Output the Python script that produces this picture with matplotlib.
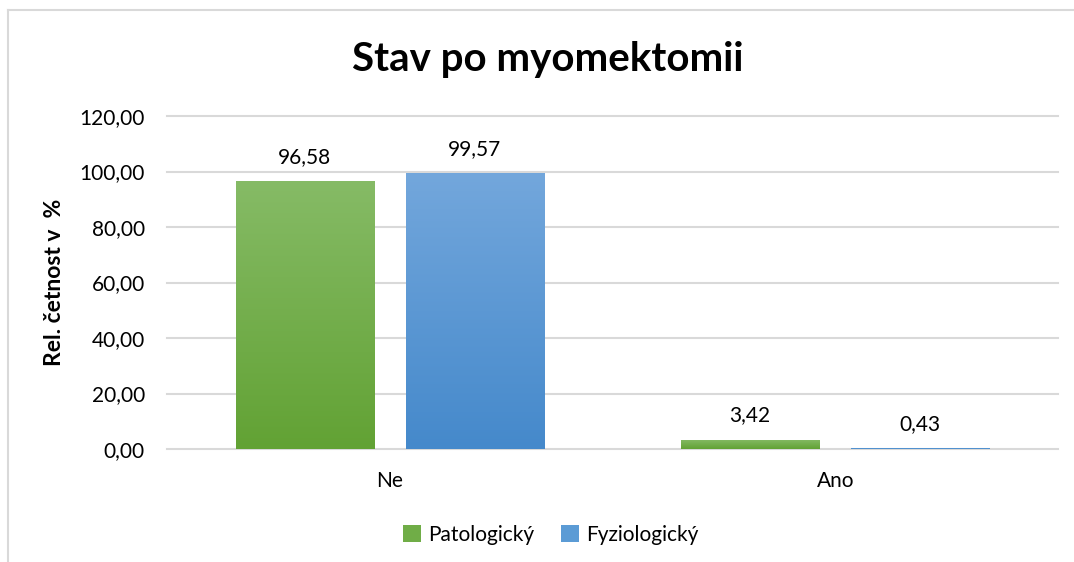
import matplotlib
matplotlib.use("Agg")
import matplotlib.pyplot as plt
import numpy as np
from matplotlib.colors import LinearSegmentedColormap
from matplotlib.patches import Patch
from matplotlib.lines import Line2D

categories = ["Ne", "Ano"]
series_names = ["Patologický", "Fyziologický"]
patologicky = [96.58, 3.42]
fyziologicky = [99.57, 0.43]
yticks = [0, 20, 40, 60, 80, 100, 120]

title = "Stav po myomektomii"
ylabel = "Rel. četnost v  %"

FONT = "Lato"
plt.rcParams['font.family'] = [FONT, 'DejaVu Sans']

grad = {
    "Patologický": ("#86BB66", "#62A234"),
    "Fyziologický": ("#73A7DC", "#4589CB"),
}
solid = {"Patologický": "#70AD47", "Fyziologický": "#5B9BD5"}

fig = plt.figure(figsize=(10.74, 5.62), dpi=100)
ax = fig.add_axes([167/1074, 1-449/562, (1058-167)/1074, (449-116)/562])

x = np.arange(len(categories))
w = 0.31
off = 0.191
data = [patologicky, fyziologicky]
offsets = [-off, off]
for name, vals, o in zip(series_names, data, offsets):
    bars = ax.bar(x + o, vals, width=w, color="none", edgecolor="none", zorder=3)
    cmap = LinearSegmentedColormap.from_list(name, [grad[name][1], grad[name][0]])
    for rect, v in zip(bars, vals):
        x0, y0 = rect.get_x(), rect.get_y()
        x1, y1 = x0 + rect.get_width(), y0 + rect.get_height()
        g = np.linspace(0, 1, 256).reshape(-1, 1)
        im = ax.imshow(g, cmap=cmap, extent=[x0, x1, y0, y1], origin="lower",
                       aspect="auto", zorder=3, interpolation="bilinear")
        im.set_clip_path(rect)
        ax.annotate(f"{v:.2f}".replace(".", ","), (x0 + rect.get_width()/2, y1),
                    xytext=(0, 13), textcoords="offset points", ha="center",
                    va="baseline", fontsize=15, color="#000000")

ax.set_xlim(-0.5, 1.5)
ax.set_ylim(0, 120)
ax.set_yticks(yticks)
ax.set_yticklabels([f"{t:.2f}".replace(".", ",") for t in yticks])
ax.set_xticks(x)
ax.set_xticklabels(categories)
ax.tick_params(axis="both", length=0, labelsize=15, colors="#000000")
ax.tick_params(axis="y", pad=16)
ax.tick_params(axis="x", pad=16)
for s in ax.spines.values():
    s.set_visible(False)
ax.grid(axis="y", color="#D9D9D9", linewidth=1.5, zorder=0)
ax.set_axisbelow(True)
for ln in ax.get_ygridlines():
    ln.set_clip_on(False)

ax.set_ylabel(ylabel, fontsize=16.5, fontweight="bold", color="#000000")
ax.yaxis.set_label_coords(-0.114, 0.5)

fig.text(548/1074, 1-60/562, title, ha="center", va="center",
         fontsize=29, fontweight="bold", color="#000000")

handles = [Patch(facecolor=solid[n], edgecolor="none", label=n) for n in series_names]
leg = fig.legend(handles=handles, loc="center", bbox_to_anchor=(551/1074, 1-535/562),
                 ncol=2, frameon=False, fontsize=15, handlelength=0.85, handleheight=0.85,
                 handletextpad=0.35, columnspacing=1.3)

# chart border (left and top)
fig.add_artist(Line2D([8/1074, 8/1074], [0, 1-10/562], color="#D9D9D9", linewidth=1.5,
                      transform=fig.transFigure))
fig.add_artist(Line2D([8/1074, 1], [1-10/562, 1-10/562], color="#D9D9D9", linewidth=1.5,
                      transform=fig.transFigure))

fig.savefig("out.png", dpi=100, facecolor="white")
